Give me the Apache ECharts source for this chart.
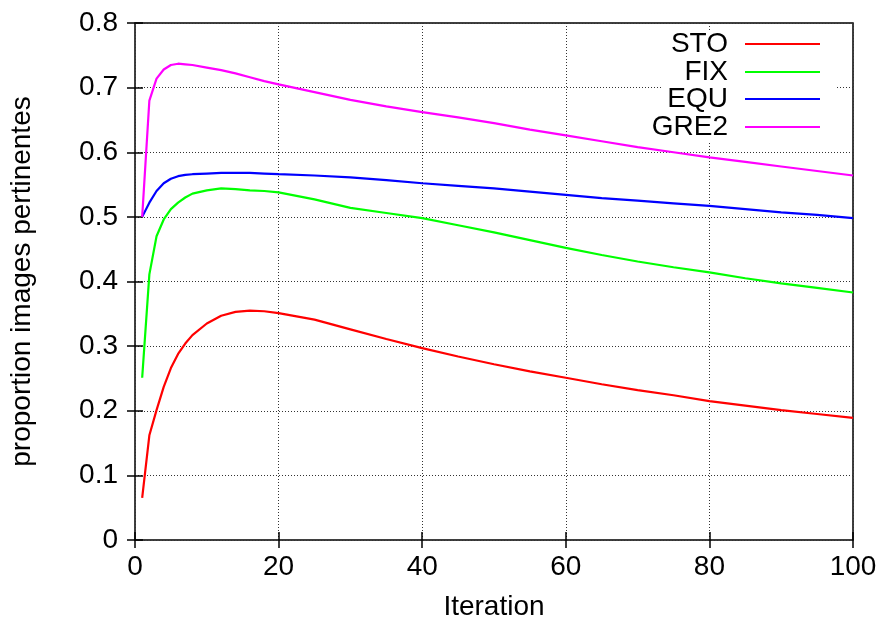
<!DOCTYPE html>
<html>
<head>
<meta charset="utf-8">
<script src="https://cdn.jsdelivr.net/npm/echarts@6/dist/echarts.min.js"></script>
<style>html,body{margin:0;padding:0;background:#fff;}#c{width:883px;height:626px;}</style>
</head>
<body>
<div id="c"></div>
<script>
const iterations = [1,2,3,4,5,6,7,8,10,12,14,16,18,20,25,30,35,40,45,50,55,60,65,70,75,80,85,90,95,100];
const sto  = [0.065,0.162,0.201,0.237,0.266,0.288,0.304,0.317,0.335,0.347,0.353,0.355,0.354,0.351,0.341,0.326,0.311,0.297,0.284,0.272,0.261,0.251,0.241,0.232,0.224,0.215,0.208,0.201,0.195,0.189];
const fix  = [0.251,0.411,0.470,0.496,0.512,0.522,0.530,0.536,0.541,0.544,0.543,0.541,0.540,0.538,0.527,0.514,0.506,0.498,0.487,0.476,0.464,0.452,0.441,0.431,0.422,0.414,0.405,0.397,0.390,0.383];
const equ  = [0.500,0.522,0.540,0.552,0.559,0.563,0.565,0.566,0.567,0.568,0.568,0.568,0.567,0.566,0.564,0.561,0.557,0.552,0.548,0.544,0.539,0.534,0.529,0.525,0.521,0.517,0.512,0.507,0.503,0.498];
const gre2 = [0.500,0.680,0.714,0.728,0.735,0.737,0.736,0.735,0.731,0.727,0.722,0.716,0.710,0.705,0.693,0.681,0.671,0.662,0.654,0.645,0.635,0.626,0.617,0.608,0.600,0.592,0.585,0.578,0.571,0.564];
const seriesNames = ['STO','FIX','EQU','GRE2'];
const seriesColors = ['#ff0000','#00ff00','#0000ff','#ff00ff'];
const seriesValues = [sto, fix, equ, gre2];
const xTitle = 'Iteration';
const yTitle = 'proportion images pertinentes';

const FONT = '"Liberation Sans", Arial, Helvetica, sans-serif';
const FS = 28;
const chart = echarts.init(document.getElementById('c'), null, {renderer:'canvas'});
const split = {show:true, lineStyle:{color:'#333', width:1, type:[1,2]}};
const tick = {show:true, inside:true, length:8, lineStyle:{color:'#000', width:1.5}};
const legendRows = [30, 58, 85, 113];
const option = {
  animation:false,
  backgroundColor:'#fff',
  textStyle:{fontFamily:FONT},
  grid:{left:135, right:30, top:23, bottom:84, show:true, borderColor:'#000', borderWidth:1.5, backgroundColor:'transparent'},
  graphic:[{type:'rect', z:3, shape:{x:662, y:31, width:174, height:112}, style:{fill:'#fff'}}],
  legend: seriesNames.map((n,i)=>({
    show:true, data:[{name:n, icon:'rect', itemStyle:{color:seriesColors[i]}}], orient:'horizontal', right:63, top:legendRows[i], padding:0, z:6,
    align:'right', itemWidth:75, itemHeight:2.2, itemGap:0,
    textStyle:{fontFamily:FONT, fontSize:FS, color:'#000', padding:[0,12,0,0]},
    selectedMode:false
  })),
  xAxis:[
    {type:'value', min:0, max:100, interval:20, position:'bottom',
     name:xTitle, nameLocation:'middle', nameGap:53, nameTextStyle:{fontFamily:FONT, fontSize:FS, color:'#000'},
     axisLine:{show:false}, axisTick:tick, splitLine:split,
     axisLabel:{fontFamily:FONT, fontSize:FS, color:'#000', margin:13}},
    {type:'value', min:0, max:100, interval:20, position:'top',
     axisLine:{show:false}, axisTick:tick, splitLine:{show:false}, axisLabel:{show:false}}
  ],
  yAxis:[
    {type:'value', min:0, max:0.8, interval:0.1, position:'left',
     name:yTitle, nameLocation:'middle', nameRotate:90, nameGap:99, nameTextStyle:{fontFamily:FONT, fontSize:FS, color:'#000'},
     axisLine:{show:false}, axisTick:tick, splitLine:split,
     axisLabel:{fontFamily:FONT, fontSize:FS, color:'#000', margin:17}},
    {type:'value', min:0, max:0.8, interval:0.1, position:'right',
     axisLine:{show:false}, axisTick:tick, splitLine:{show:false}, axisLabel:{show:false}}
  ],
  series: seriesNames.map((n,i)=>({
    name:n, type:'line', xAxisIndex:0, yAxisIndex:0, symbol:'none', smooth:false,
    lineStyle:{color:seriesColors[i], width:2.2}, itemStyle:{color:seriesColors[i]},
    data: iterations.map((x,j)=>[x, seriesValues[i][j]])
  }))
};
chart.setOption(option);
</script>
</body>
</html>
